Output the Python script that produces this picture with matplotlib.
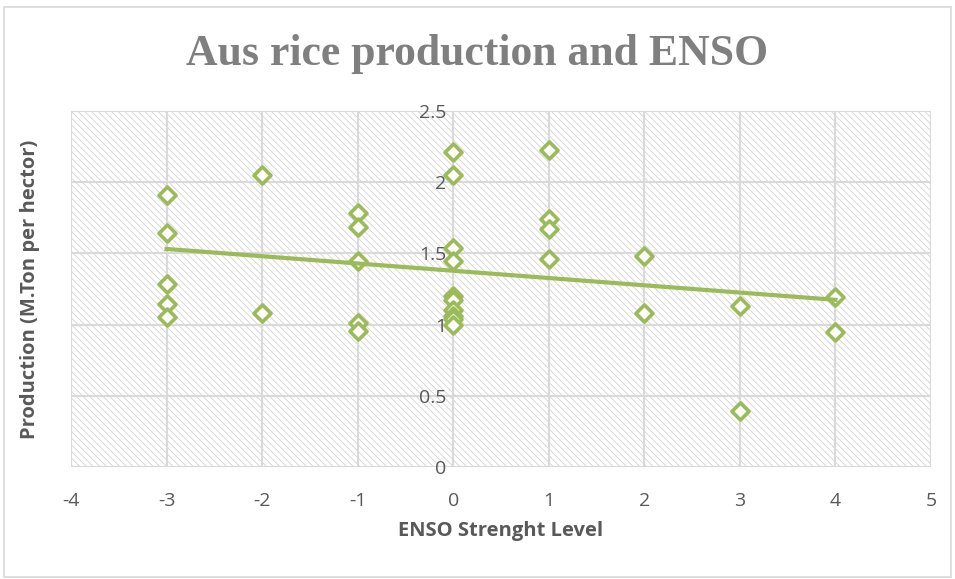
import matplotlib.pyplot as plt
import matplotlib.patches as mpatches
import numpy as np

plt.rcParams['hatch.linewidth'] = 0.6
plt.rcParams['axes.unicode_minus'] = False

# ENSO strength level and Aus rice production (M.Ton per hector)
enso = [-3, -3, -3, -3, -3,
        -2, -2,
        -1, -1, -1, -1, -1,
        0, 0, 0, 0, 0, 0, 0, 0, 0, 0,
        1, 1, 1, 1,
        2, 2,
        3, 3,
        4, 4]
production = [1.91, 1.64, 1.285, 1.145, 1.053,
              2.05, 1.084,
              1.786, 1.687, 1.447, 1.013, 0.957,
              2.214, 2.05, 1.536, 1.449, 1.2, 1.17, 1.1, 1.06, 1.04, 1.0,
              2.226, 1.739, 1.669, 1.463,
              1.48, 1.079,
              1.13, 0.395,
              1.196, 0.95]

x_ticks = [-4, -3, -2, -1, 0, 1, 2, 3, 4, 5]
y_ticks = [0, 0.5, 1, 1.5, 2, 2.5]
y_tick_labels = ['0', '0.5', '1', '1.5', '2', '2.5']

green = '#9bbb59'
grey_text = '#595959'
tick_font = 'Open Sans'

fig = plt.figure(figsize=(9.55, 5.79), dpi=100)
ax = fig.add_axes([71 / 955, 1 - 467 / 579, 860 / 955, 356 / 579])

# outer chart frame
fig.patches.append(mpatches.Rectangle((4 / 955, 2 / 579), 947 / 955, 570 / 579,
                                      transform=fig.transFigure, fill=False,
                                      edgecolor='#d9d9d9', linewidth=1.2))

# diagonal pattern fill of the plot area
ax.patch.set_visible(False)
ax.add_patch(mpatches.Rectangle((0, 0), 1, 1, transform=ax.transAxes,
                                facecolor='white', edgecolor='#d2d2d2',
                                hatch='\\\\\\\\\\', linewidth=0, zorder=0))

ax.set_xlim(-4, 5)
ax.set_ylim(0, 2.5)
ax.set_xticks(x_ticks)
ax.set_yticks(y_ticks)
ax.set_yticklabels(y_tick_labels)
ax.grid(True, color='#d9d9d9', linewidth=1.5, zorder=1)
ax.set_axisbelow(True)

for s in ['top', 'right', 'bottom']:
    ax.spines[s].set_visible(False)
ax.spines['left'].set_position(('data', 0))
ax.spines['left'].set_visible(False)

ax.tick_params(axis='both', length=0, labelcolor=grey_text, labelsize=14)
ax.tick_params(axis='x', pad=18)
ax.tick_params(axis='y', pad=5)
for lbl in ax.get_xticklabels() + ax.get_yticklabels():
    lbl.set_fontfamily(tick_font)

ax.scatter(enso, production, marker='D', s=75, facecolors='white',
           edgecolors=green, linewidths=2.6, zorder=3)

# linear trend line
slope, intercept = np.polyfit(enso, production, 1)
xs = np.array([min(enso), max(enso)])
ax.plot(xs, slope * xs + intercept, color=green, linewidth=3, zorder=4)

ax.set_xlabel('ENSO Strenght Level', fontsize=14.5, fontweight='bold',
              color=grey_text, fontfamily=tick_font, labelpad=8)
ax.set_ylabel('Production (M.Ton per hector)', fontsize=14.5, fontweight='bold',
              color=grey_text, fontfamily=tick_font)
ax.yaxis.set_label_coords(-0.036, 0.5)

fig.text(0.5, 1 - 54 / 579, 'Aus rice production and ENSO', ha='center', va='center',
         fontsize=31.5, fontweight='bold', color='#7f7f7f', fontfamily='Liberation Serif')

fig.savefig('out.png', dpi=100)
